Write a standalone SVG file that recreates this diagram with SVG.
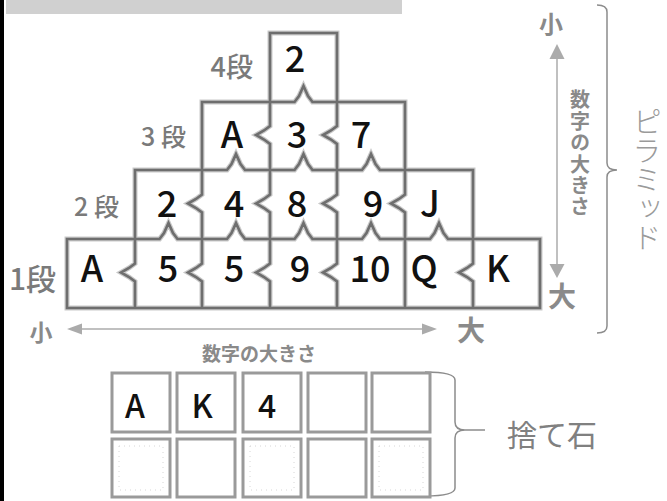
<svg xmlns="http://www.w3.org/2000/svg" width="667" height="501" viewBox="0 0 667 501">
<style>
.cell{font-family:"Noto Sans CJK JP","Noto Sans",sans-serif;font-size:36px;font-weight:500;fill:#111;text-anchor:middle}
.cell2{font-family:"Noto Sans CJK JP","Noto Sans",sans-serif;font-size:32px;font-weight:500;fill:#111;text-anchor:middle}
.lbl{font-family:"Noto Sans CJK JP",sans-serif;font-weight:500;fill:#7a7a7a}
.gl{font-family:"Noto Sans CJK JP",sans-serif;font-weight:700;fill:#8a8a8a;text-anchor:middle}
.ln{fill:none;stroke:#6e6e6e;stroke-width:2.6;stroke-linejoin:miter}
.lnu{fill:none;stroke:#c9c9c9;stroke-width:5}
.sq{fill:#fff;stroke:#9a9a9a;stroke-width:3}
.dot{fill:none;stroke:#d6d6d6;stroke-width:1;stroke-dasharray:1 4}
.arr{stroke:#ababab;stroke-width:1.5}
.ah{fill:#ababab}
.br{fill:none;stroke:#8c8c8c;stroke-width:1.5}
</style>
<rect x="0" y="0" width="4" height="501" fill="#000"/>
<rect x="6" y="0" width="396" height="14" fill="#d0d0d0"/>

<g id="pyramid">
<path d="M67,239 H135 V170 H202 V102 H270 V33 H337 V102 H405 V170 H473 V239 H540 V308 H67 Z" fill="#fff"/>
<g id="pyramid-lines-under" class="lnu">
<path d="M67,239 H135 V170 H202 V102 H270 V33 H337 V102 H405 V170 H473 V239 H540 V308 H67 Z"/>
<path d="M270,102 H294.5 L299,96 L303.5,86 L308,96 L312.5,102 H337"/>
<path d="M202,170 H227 L231.5,164 L236,154 L240.5,164 L245,170 H294.5 L299,164 L303.5,154 L308,164 L312.5,170 H362 L366.5,164 L371,154 L375.5,164 L380,170 H405"/>
<path d="M135,239 H159.5 L164,233 L168.5,223 L173,233 L177.5,239 H227 L231.5,233 L236,223 L240.5,233 L245,239 H294.5 L299,233 L303.5,223 L308,233 L312.5,239 H362 L366.5,233 L371,223 L375.5,233 L380,239 H430 L434.5,233 L439,223 L443.5,233 L448,239 H473"/>
<path d="M270,102 V126 L264,130.5 L256,135 L264,139.5 L270,144 V170 M337,102 V126 L331,130.5 L323,135 L331,139.5 L337,144 V170"/>
<path d="M202,170 V194.5 L196,199 L188,203.5 L196,208 L202,212.5 V239 M270,170 V194.5 L264,199 L256,203.5 L264,208 L270,212.5 V239 M337,170 V194.5 L331,199 L323,203.5 L331,208 L337,212.5 V239 M405,170 V194.5 L399,199 L391,203.5 L399,208 L405,212.5 V239"/>
<path d="M135,239 V263.5 L129,268 L121,272.5 L129,277 L135,281.5 V308 M202,239 V263.5 L196,268 L188,272.5 L196,277 L202,281.5 V308 M270,239 V263.5 L264,268 L256,272.5 L264,277 L270,281.5 V308 M337,239 V263.5 L331,268 L323,272.5 L331,277 L337,281.5 V308 M405,239 V308 M473,239 V263.5 L467,268 L459,272.5 L467,277 L473,281.5 V308"/>
</g>
<g id="pyramid-lines" class="ln">
<path d="M67,239 H135 V170 H202 V102 H270 V33 H337 V102 H405 V170 H473 V239 H540 V308 H67 Z"/>
<path d="M270,102 H294.5 L299,96 L303.5,86 L308,96 L312.5,102 H337"/>
<path d="M202,170 H227 L231.5,164 L236,154 L240.5,164 L245,170 H294.5 L299,164 L303.5,154 L308,164 L312.5,170 H362 L366.5,164 L371,154 L375.5,164 L380,170 H405"/>
<path d="M135,239 H159.5 L164,233 L168.5,223 L173,233 L177.5,239 H227 L231.5,233 L236,223 L240.5,233 L245,239 H294.5 L299,233 L303.5,223 L308,233 L312.5,239 H362 L366.5,233 L371,223 L375.5,233 L380,239 H430 L434.5,233 L439,223 L443.5,233 L448,239 H473"/>
<path d="M270,102 V126 L264,130.5 L256,135 L264,139.5 L270,144 V170 M337,102 V126 L331,130.5 L323,135 L331,139.5 L337,144 V170"/>
<path d="M202,170 V194.5 L196,199 L188,203.5 L196,208 L202,212.5 V239 M270,170 V194.5 L264,199 L256,203.5 L264,208 L270,212.5 V239 M337,170 V194.5 L331,199 L323,203.5 L331,208 L337,212.5 V239 M405,170 V194.5 L399,199 L391,203.5 L399,208 L405,212.5 V239"/>
<path d="M135,239 V263.5 L129,268 L121,272.5 L129,277 L135,281.5 V308 M202,239 V263.5 L196,268 L188,272.5 L196,277 L202,281.5 V308 M270,239 V263.5 L264,268 L256,272.5 L264,277 L270,281.5 V308 M337,239 V263.5 L331,268 L323,272.5 L331,277 L337,281.5 V308 M405,239 V308 M473,239 V263.5 L467,268 L459,272.5 L467,277 L473,281.5 V308"/>
</g>
<g id="row4" class="cell"><text x="295" y="72">2</text></g>
<g id="row3" class="cell"><text x="232" y="148">A</text><text x="297" y="148">3</text><text x="361" y="148">7</text></g>
<g id="row2" class="cell"><text x="167" y="217">2</text><text x="234" y="217">4</text><text x="297" y="217">8</text><text x="373" y="217">9</text><text x="430" y="217">J</text></g>
<g id="row1" class="cell"><text x="92" y="282">A</text><text x="168" y="282">5</text><text x="234" y="282">5</text><text x="300" y="282">9</text><text x="370" y="282">10</text><text x="424" y="282">Q</text><text x="498" y="282">K</text></g>
</g>

<g id="row-labels" class="lbl">
<text x="253" y="77" font-size="27" text-anchor="end">4段</text>
<text x="186" y="146" font-size="25" text-anchor="end" xml:space="preserve">3 段</text>
<text x="119" y="216" font-size="25" text-anchor="end" xml:space="preserve">2 段</text>
<text x="56" y="290" font-size="30" text-anchor="end">1段</text>
</g>

<g id="connectors">
<line class="arr" x1="81" y1="329" x2="423" y2="329"/>
<polygon class="ah" points="67,329 82,323.5 82,334.5"/>
<polygon class="ah" points="437,329 422,323.5 422,334.5"/>
<line class="arr" x1="557" y1="58" x2="557" y2="265"/>
<polygon class="ah" points="557,44 549.5,59 564.5,59"/>
<polygon class="ah" points="557,278 549.5,264 564.5,264"/>
<path class="br" d="M597,5 Q607,5 607,12 V163 Q607,170 617,170 Q607,170 607,177 V326 Q607,333 597,333"/>
<path class="br" d="M425,372 Q455,372 455,380 V422 Q455,430 465,430 H485 M465,430 Q455,430 455,438 V488 Q455,496 425,496"/>
</g>

<g id="axis-labels">
<text class="gl" x="41" y="341" font-size="23">小</text>
<text class="gl" x="471" y="341" font-size="28">大</text>
<text class="gl" x="259" y="361" font-size="19">数字の大きさ</text>
<text class="gl" x="551" y="33" font-size="24">小</text>
<text class="gl" x="562" y="307" font-size="28">大</text>
<text class="gl" x="580" y="154" font-size="20" letter-spacing="1.4" writing-mode="vertical-rl">数字の大きさ</text>
<text x="647" y="107" font-family="'Noto Sans CJK JP',sans-serif" font-weight="300" font-size="29" fill="#9a9a9a" writing-mode="vertical-rl">ピラミッド</text>
</g>

<g id="discard">
<rect class="sq" x="112" y="373" width="58" height="59"/>
<rect class="sq" x="177" y="373" width="58" height="59"/>
<rect class="sq" x="243" y="373" width="58" height="59"/>
<rect class="sq" x="308" y="373" width="58" height="59"/>
<rect class="sq" x="372" y="373" width="58" height="59"/>
<rect class="sq" x="112" y="439" width="58" height="58"/>
<rect class="sq" x="177" y="439" width="58" height="58"/>
<rect class="sq" x="243" y="439" width="58" height="58"/>
<rect class="sq" x="308" y="439" width="58" height="58"/>
<rect class="sq" x="372" y="439" width="58" height="58"/>
<rect class="dot" x="119" y="446" width="44" height="44"/>
<rect class="dot" x="250" y="446" width="44" height="44"/>
<rect class="dot" x="379" y="446" width="44" height="44"/>
<g class="cell2"><text x="135" y="418">A</text><text x="202" y="418">K</text><text x="267" y="418">4</text></g>
<text x="507" y="446" font-family="'Noto Sans CJK JP',sans-serif" font-weight="400" font-size="30" fill="#808080">捨て石</text>
</g>
</svg>
